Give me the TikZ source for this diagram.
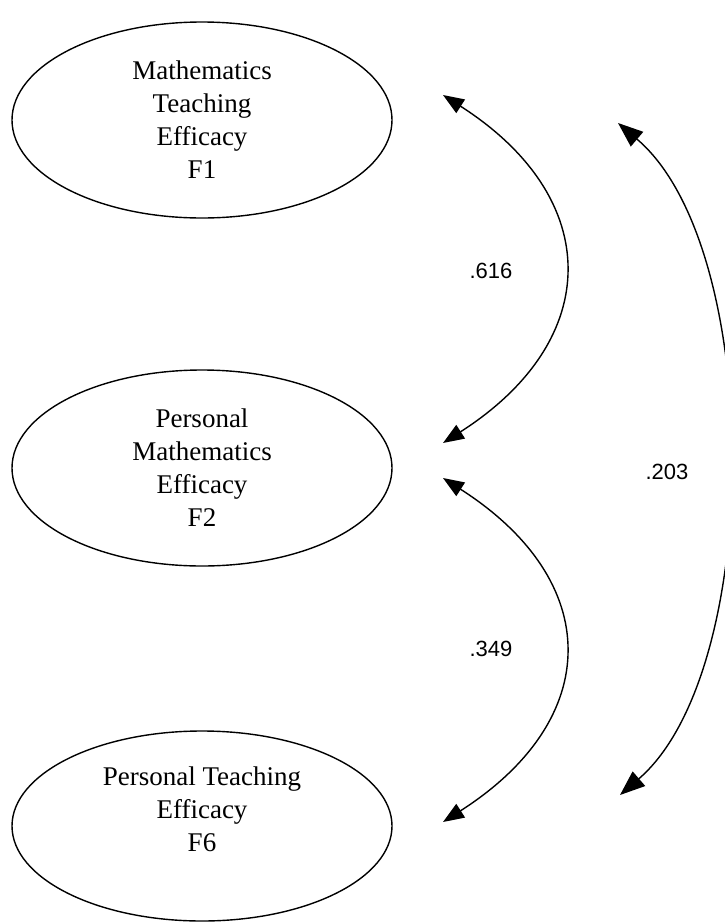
\documentclass[tikz,border=0pt]{standalone}
\usepackage{fontspec}
\setmainfont{Liberation Serif}
\newfontfamily\labfont{Liberation Sans}
\usetikzlibrary{shapes.geometric,arrows.meta}
\begin{document}
\begin{tikzpicture}[x=1pt,y=-1pt,
  factor/.style={draw,ellipse,line width=1.4pt,minimum width=380pt,minimum height=196pt,inner sep=0pt,align=center,font=\fontsize{27}{33}\selectfont},
  cov/.style={line width=1.4pt,{Triangle[length=21pt,width=16pt]}-{Triangle[length=21pt,width=16pt]}},
  bigcov/.style={line width=1.4pt,{Triangle[length=25pt,width=19pt]}-{Triangle[length=25pt,width=19pt]}},
  coef/.style={font=\labfont\fontsize{22}{26}\selectfont}]
\useasboundingbox (0,0) rectangle (724,922);
\node[factor] (e1) at (202,120) {Mathematics\\Teaching\\Efficacy\\F1};
\node[factor] (e2) at (202,468) {Personal\\Mathematics\\Efficacy\\F2};
\node[factor,minimum height=190pt] (e3) at (202,826) {Personal Teaching\\Efficacy\\F6\\\mbox{}};
\coordinate (a1) at (443,95);
\coordinate (a2) at (443,443);
\coordinate (b1) at (443,478);
\coordinate (b2) at (443,822);
\coordinate (c1) at (618,123);
\coordinate (c2) at (620,795);
\draw[cov] (a1) .. controls (604,198) and (604,340) .. (a2);
\draw[cov] (b1) .. controls (604,581) and (604,719) .. (b2);
\draw[bigcov] (c1) .. controls (764,247) and (764,671) .. (c2);
\node[coef] (l1) at (491,271) {.616};
\node[coef] (l2) at (491,649) {.349};
\node[coef] (l3) at (667,472) {.203};
\end{tikzpicture}
\end{document}
